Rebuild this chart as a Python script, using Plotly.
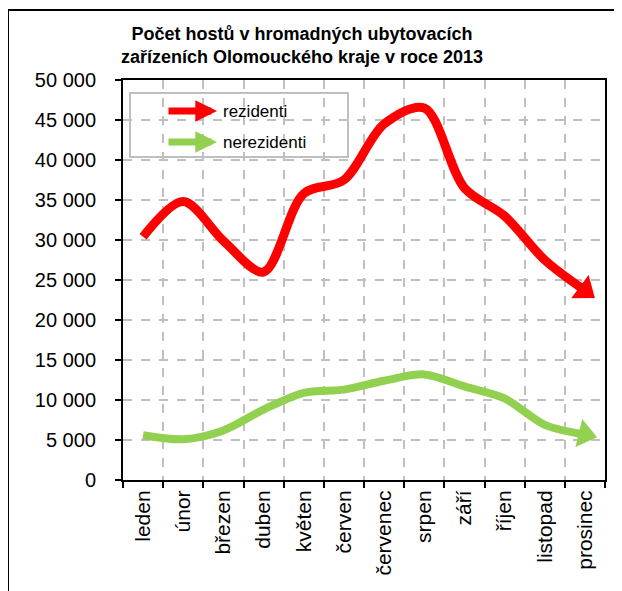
import plotly.graph_objects as go

months = ["leden", "únor", "březen", "duben", "květen", "červen",
          "červenec", "srpen", "září", "říjen", "listopad", "prosinec"]
rezidenti = [30400, 34800, 29900, 26000, 35800, 37500,
             44500, 46500, 36500, 33000, 27500, 23700]
nerezidenti = [5600, 5100, 6200, 8800, 10900, 11300,
               12400, 13200, 11700, 10200, 6900, 5700]
y_ticks = [0, 5000, 10000, 15000, 20000, 25000, 30000, 35000, 40000, 45000, 50000]
y_ticklabels = ["0", "5 000", "10 000", "15 000", "20 000", "25 000",
                "30 000", "35 000", "40 000", "45 000", "50 000"]

FONT = "Liberation Sans, Arial, sans-serif"
RED = "#ff0000"
GREEN = "#92d050"

fig = go.Figure()
for name, values, color, width in [("rezidenti", rezidenti, RED, 9),
                                   ("nerezidenti", nerezidenti, GREEN, 8)]:
    fig.add_trace(go.Scatter(
        x=months, y=values, name=name, mode="lines",
        line=dict(color=color, width=width, shape="spline", smoothing=0.9),
        showlegend=False, cliponaxis=False))
    # arrow head at the end of the series
    fig.add_trace(go.Scatter(
        x=months[-2:], y=values[-2:], mode="markers", hoverinfo="skip",
        marker=dict(symbol="triangle-up", angleref="previous", size=[0, 25],
                    color=color, opacity=1, line=dict(width=0)),
        opacity=1, showlegend=False, cliponaxis=False))

OFF = 8  # page body margin
W, H = 622 - OFF, 591 - OFF
PL, PR, PT, PB = 123, 605, 80, 480
L, R, T, B = PL - OFF, W - (PR - OFF), PT - OFF, H - (PB - OFF)
pw, ph = PR - PL, PB - PT

def px(x):
    return (x - PL) / pw

def py(y):
    return (PB - y) / ph

shapes = [
    dict(type="line", xref="paper", yref="paper", x0=px(8), x1=px(8),
         y0=py(10), y1=py(600), line=dict(color="black", width=2)),
    dict(type="line", xref="paper", yref="paper", x0=px(8), x1=px(640),
         y0=py(10), y1=py(10), line=dict(color="black", width=2)),
    dict(type="rect", xref="paper", yref="paper", x0=px(130), x1=px(348),
         y0=py(157), y1=py(93), fillcolor="white",
         line=dict(color="#bfbfbf", width=2), layer="below"),
]

annotations = []
for label, color, yy in [("rezidenti", RED, 111), ("nerezidenti", GREEN, 142)]:
    annotations.append(dict(
        xref="paper", yref="paper", x=px(217), y=py(yy), ax=-50, ay=0,
        showarrow=True, arrowhead=2, arrowsize=0.62, arrowwidth=7,
        arrowcolor=color, text=""))
    annotations.append(dict(
        xref="paper", yref="paper", x=px(221), y=py(yy), xanchor="left",
        yanchor="middle", showarrow=False, text=label,
        font=dict(family=FONT, size=17, color="black")))

fig.update_layout(
    width=W, height=H,
    margin=dict(l=L, r=R, t=T, b=B, pad=0),
    paper_bgcolor="white", plot_bgcolor="white",
    title=dict(text="<b>Počet hostů v hromadných ubytovacích<br>zařízeních Olomouckého kraje v roce 2013</b>",
               x=(302 - OFF) / W, xanchor="center", y=1 - (40 - OFF) / H, yanchor="middle",
               font=dict(family=FONT, size=18, color="black")),
    xaxis=dict(
        type="category", tickson="boundaries", range=[-0.5, 11.5],
        showgrid=True, gridcolor="#c0c0c0", griddash="dash", gridwidth=1.5,
        showline=True, linecolor="black", linewidth=2, mirror=True,
        ticks="outside", ticklen=6, tickwidth=2, tickcolor="black",
        tickangle=-90, tickfont=dict(family=FONT, size=21, color="black"),
    ),
    yaxis=dict(
        range=[0, 50000], tickvals=y_ticks, ticktext=y_ticklabels,
        showgrid=True, gridcolor="#c0c0c0", griddash="dash", gridwidth=1.5,
        showline=True, linecolor="black", linewidth=2, mirror=True,
        ticks="outside", ticklen=6, tickwidth=2, tickcolor="black",
        ticklabelstandoff=15,
        tickfont=dict(family=FONT, size=20, color="black"), zeroline=False,
    ),
    shapes=shapes, annotations=annotations,
)

fig.write_html("out.html")
